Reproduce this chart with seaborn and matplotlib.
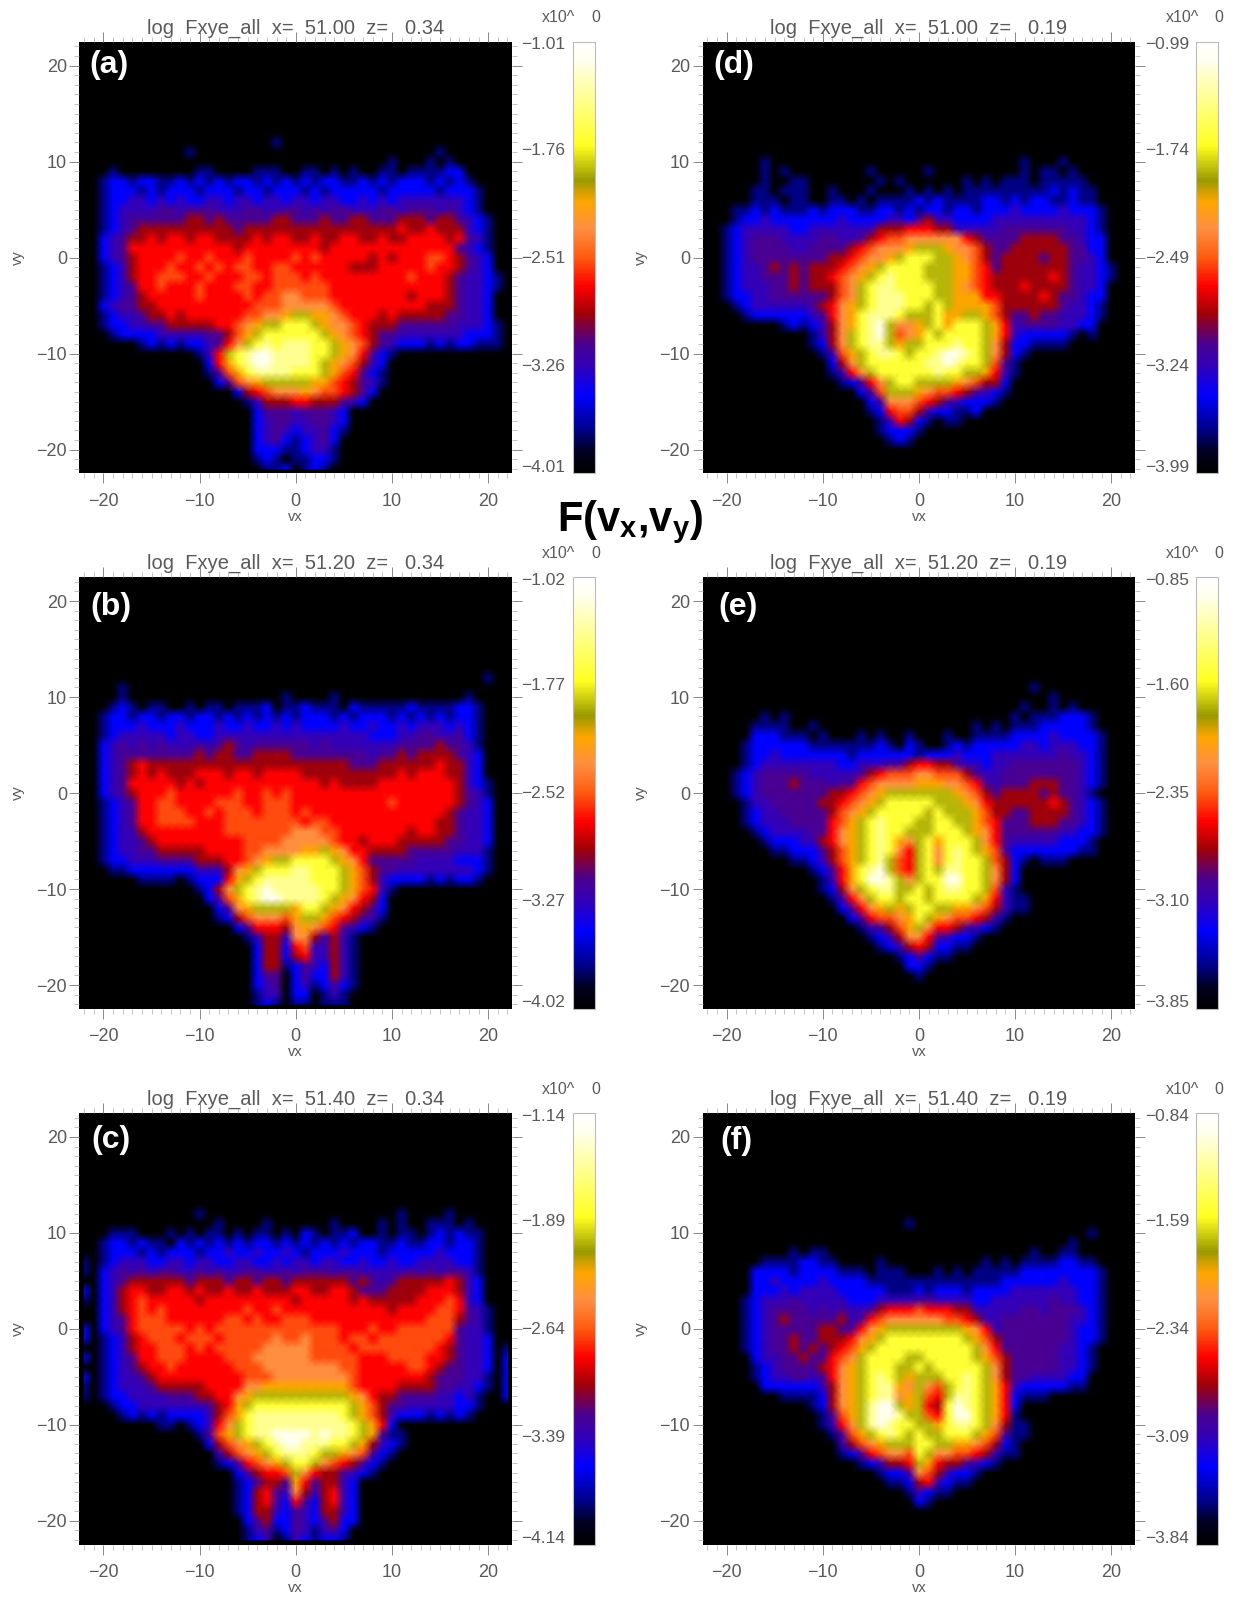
import numpy as np
import pandas as pd
import seaborn as sns
import matplotlib.pyplot as plt
from matplotlib.colors import LinearSegmentedColormap

# picture read by eye on a 1 unit grid, vx -22..22 (groups of 5 columns), vy 13 down to -22
# 0 black 1 navy 2 blue 3 indigo 4 purple 5 dark red 6 red 7 red orange
# 8 light orange 9 orange a olive b yellow c pale yellow d near white
LEVEL_CODES = "0123456789abcd"
LEVEL_FRACS = [0.0, 0.10, 0.18, 0.25, 0.30, 0.37, 0.435, 0.49, 0.57, 0.63, 0.70, 0.78, 0.87, 0.96]

PANEL_A = [
    "",
    "00000 00000 00000 00000 10000",
    "00000 00000 01000 00000 00000 00000 00000 00100",
    "00000 00000 00000 00000 00000 00000 00100 01010",
    "00010 00000 00110 00011 10011 01010 01101 11122",
    "00122 12211 21212 12212 12121 22112 12122 21212 10000",
    "00122 21212 22122 21221 22212 12222 21222 22122 21000",
    "00122 33232 32233 23323 32332 33223 23233 33333 21000",
    "00123 33344 34443 33443 34434 34433 34434 44343 21000",
    "00123 44444 45545 44444 55444 54455 44455 54554 32100",
    "00123 45555 55555 54555 55555 55555 55565 56555 32100",
    "00234 55656 65665 55565 66556 55665 56556 66656 43100",
    "00234 66666 66666 65666 66666 56666 66666 66664 32100",
    "00234 56666 76676 66766 66767 66666 56566 67765 43200",
    "00123 56667 66767 67766 77666 66655 56666 67665 43200",
    "00123 56677 76676 66776 77767 66666 66667 66654 33210",
    "00123 46676 66766 67766 77777 76666 66666 66654 33210",
    "00123 45666 66766 66767 78877 76666 66665 66654 33200",
    "00234 45566 66666 66677 78888 87666 66666 65554 33200",
    "00123 34556 56666 66778 89aa9 98766 65655 55544 33200",
    "00122 33445 55556 6789a abbba 98876 55544 44443 33210",
    "00012 22233 33344 579ab bbbbb a9876 54433 33333 22210",
    "00000 01212 12234 68abc bcccb ba987 54322 21212 21110",
    "00000 00000 00136 abcdd ccccb ba986 42100",
    "00000 00000 00026 9bcdd ccccb a9875 32000",
    "00000 00000 00014 79bcc ccbbb a9764 21000",
    "00000 00000 00002 4789a aaaa9 97654 31000",
    "00000 00000 00000 02567 88898 77654 20000",
    "00000 00000 00000 00135 55665 55432",
    "00000 00000 00000 00024 44344 43200",
    "00000 00000 00000 00023 44334 43200",
    "00000 00000 00000 00023 43233 42100",
    "00000 00000 00000 00023 42123 42000",
    "00000 00000 00000 00022 21123 31000",
    "00000 00000 00000 00012 10112 21000",
    "00000 00000 00000 00001 12012 10000",
]

PANEL_B = [
    "",
    "00000 00000 00000 00000 00000 00000 00000 00000 00100",
    "00001",
    "00001 00000 00000 00000 01000 01000 00000 00000 10000",
    "00012 10110 01011 01112 01121 11021 11112 11112 21000",
    "00122 12212 21221 21212 12122 21212 22121 21212 21000",
    "00122 23222 32223 22322 32322 22322 32232 33323 21000",
    "00123 33332 33223 33333 33333 33333 22233 44334 21000",
    "00234 34343 33434 54344 44443 43333 33344 44544 31000",
    "00234 44444 44545 54455 55444 44444 34454 55554 32000",
    "00234 56555 55555 55555 55555 55544 45555 55655 32000",
    "00234 56565 55666 56656 66655 55555 55565 66655 32000",
    "00234 66666 56566 66666 66666 56555 56666 66665 32100",
    "00234 56667 66666 67667 67666 66666 66666 66665 43100",
    "00123 46677 66667 77667 77666 66666 66766 66665 43200",
    "00123 46677 76676 77767 77676 66666 66666 66654 33200",
    "00123 46677 77666 77777 77767 76666 66666 66554 33200",
    "00123 35666 66666 77777 77888 77666 66665 66554 33200",
    "00123 34566 66666 66777 78888 87665 66655 55544 33200",
    "00123 34455 55566 66778 88899 a9866 55554 44443 33100",
    "00122 33344 44555 66789 aabbb ba986 44444 33332 22100",
    "00011 22222 22333 589ab bbccb bba97 54433 33333 32100",
    "00000 01111 01222 69abc ccccb bba97 53222 21212 21000",
    "00000 00000 00125 8abcd ccccc bba97 63100",
    "00000 00000 00024 79bcd dcccc ba986 52000",
    "00000 00000 00002 489aa aa9bb a9865 42000",
    "00000 00000 00001 25788 879aa 97654 31000",
    "00000 00000 00000 02466 65898 76432 10000",
    "00000 00000 00000 00135 53885 35310",
    "00000 00000 00000 00025 52673 35310",
    "00000 00000 00000 00025 52563 35310",
    "00000 00000 00000 00025 51243 25310",
    "00000 00000 00000 00024 40242 25310",
    "00000 00000 00000 00023 40231 24210",
    "00000 00000 00000 00013 30220 13100",
    "00000 00000 00000 00012 10110 11100",
]

PANEL_C = [
    "",
    "00000 00000 00100 00000 00000 00000 00010 00010",
    "00000 00000 00001 00001 00000 01000 01010 01110 10000",
    "00011 10001 01011 01011 01021 01120 01011 01212 11000",
    "00122 12110 21212 12122 12121 21212 21121 12212 21000",
    "00122 21212 22122 32232 23212 22322 21222 22322 21000",
    "10123 33223 32332 23322 32332 33223 22322 33332 21000",
    "10234 34344 33434 33443 34344 43443 33334 34344 31000",
    "00234 55555 54555 45545 54555 55545 43455 55565 32000",
    "20235 66556 65655 65565 55665 56654 44555 56665 32000",
    "10235 67666 66566 66666 66566 66656 55555 66676 32000",
    "00235 67676 66666 66766 76666 66666 66566 66776 43100",
    "00234 67776 66666 77676 67776 66666 66666 67775 43100",
    "20234 67777 76767 77777 77777 77666 76677 77774 33100",
    "20123 56777 67776 77777 87787 77677 67777 77764 33200",
    "00123 56677 76767 77778 88887 77767 77777 77654 33201",
    "20123 46677 76666 77788 88887 77776 66777 76654 33202",
    "00123 45667 66666 67778 88888 88776 66667 76544 33202",
    "20123 34566 66666 66777 88888 88876 66666 65444 33102",
    "10123 33455 55566 66889 99999 99976 66655 55443 32102",
    "10122 33334 44556 689aa aaaaa aaa98 65544 44332 31002",
    "00012 23333 33345 69abb bbbbb bbba9 75443 33332 21000",
    "00001 21212 22235 79bcc ccccc ccba9 75322 21212 10000",
    "00000 00011 01236 8abcc ccccc cccba 96200",
    "00000 00000 00147 9abcc ddddc dccba 94110",
    "00000 00000 00025 789ab cddcc cbba9 53210",
    "00000 00000 00003 5789a bcccb aa987 42100",
    "00000 00000 00001 24678 9abba 87654 21000",
    "00000 00000 00000 02456 67a86 55432 10000",
    "00000 00000 00000 01245 54964 55320",
    "00000 00000 00000 01256 43853 56320",
    "00000 00000 00000 01256 42642 56320",
    "00000 00000 00000 01255 32432 55320",
    "00000 00000 00000 00245 22432 45220",
    "00000 00000 00000 00134 12431 34200",
    "00000 00000 00000 00123 01321 22100",
]

PANEL_D = [
    "",
    "",
    "",
    "00000 01000 00000 00000 00000 00000 00010 00100",
    "00000 01010 00000 00100 00010 00000 00010 11010",
    "00000 01001 10000 00010 10000 00101 01110 11111",
    "00000 11011 10010 00100 01010 10111 11111 12121 10000",
    "00000 11101 10011 01011 11212 11112 21212 21121 10000",
    "00011 21211 12122 21122 12122 12212 22322 22322 21000",
    "00012 23222 22223 22223 32453 32222 33333 33333 21000",
    "00123 33332 23333 33355 56665 53333 34444 44433 21000",
    "00123 44433 33443 34567 78888 88654 44455 55443 22000",
    "00123 44443 34444 56788 89aaa 98875 44555 55544 22000",
    "00123 44444 44455 67889 abbba a9875 45555 45544 32000",
    "00123 34545 45556 789ab bbbaa a9976 45555 55543 32100",
    "00123 34445 45567 89abc bbbaa a9976 55555 56543 32100",
    "00123 33445 45557 8abcc bbbba a9876 55565 55543 32000",
    "00122 33444 44457 8abcc cbbba a9996 65555 65443 22000",
    "00012 33333 34568 9abcc cbbab a9999 75555 55433 21000",
    "00001 22222 23468 9bccc baaab 99aa9 75445 44333 21000",
    "00000 00012 12358 9bcda 889ab 9bbba 96344 44332 20000",
    "00000 00000 01358 abcda 789ba bbbba 96322 22210 10000",
    "00000 00000 01258 abcca 9aabb bcbba 85221 11100",
    "00000 00000 00137 9abcc babbc ddcba 85210",
    "00000 00000 00025 8abbb bbbcc dcbba 74100",
    "00000 00000 00013 68abb bbbbc bbaa9 63100",
    "00000 00000 00001 2468a bbaaa a9875 52000",
    "00000 00000 00000 0247a aa987 76543 21000",
    "00000 00000 00000 00248 88765 43222 10000",
    "00000 00000 00000 00126 77532 21120",
    "00000 00000 00000 00013 65210 11000",
    "00000 00000 00000 00012 22100",
    "00000 00000 00000 00001 21000",
    "",
    "",
    "",
]

PANEL_E = [
    "",
    "",
    "00000 00000 00000 00000 00000 00000 00001",
    "00000 00000 00000 00000 00000 00000 00000 01000",
    "00000 00000 00000 00000 00000 00000 00010 01010",
    "00000 01010 00000 00000 00000 00000 00101 11222 10000",
    "00000 11110 01000 00000 00000 00010 10111 22222 10000",
    "00000 22211 10100 01010 01000 10011 11222 23222 21000",
    "00001 22222 21111 11121 02100 12122 22233 23332 21000",
    "00001 22322 22222 12222 22122 23222 33333 33433 21000",
    "00001 23333 33332 23334 45665 54332 33444 44443 21000",
    "00012 34444 43333 34567 77887 77543 34444 44443 21000",
    "00012 34445 44434 46788 88999 88764 34445 55443 21000",
    "00012 34444 44455 6789a aaaaa a9875 45555 45443 10000",
    "00001 33444 44556 789ab bbbba aa986 55555 56543 21000",
    "00001 23344 44457 89abb bbbab aaa97 55445 55543 21000",
    "00001 23334 44467 9abcb bbaab baa97 64445 55443 21000",
    "00000 12333 34468 9abcb baaab bba98 64444 44332 21000",
    "00000 01222 33568 9abcb 98ab9 bbba8 64333 33222 10000",
    "00000 00112 22457 9abcb 86ab8 bcba9 74222 22221 10000",
    "00000 00001 12357 9abca 76ab8 bcbba 75210 11100",
    "00000 00000 01246 9bcda 76aba ccbba 85200",
    "00000 00000 00136 9bddc a8abb ddbba 85200",
    "00000 00000 00125 8abcc aabab ccbba 73100",
    "00000 00000 00013 68abb abbab bbba9 63110",
    "00000 00000 00002 4689a 9abba a9987 53110",
    "00000 00000 00000 24677 89ba9 87765 31000",
    "00000 00000 00000 01345 79a86 65432 10000",
    "00000 00000 00000 00123 58864 32210",
    "00000 00000 00000 00012 35652 21100",
    "00000 00000 00000 00000 12421 10000",
    "00000 00000 00000 00000 02210",
    "00000 00000 00000 00000 00100",
    "",
    "",
    "",
]

PANEL_F = [
    "",
    "",
    "00000 00000 00000 00000 01000",
    "00000 00000 00000 00000 00000 00000 00000 00000 10000",
    "00000 00000 00000 00000 00000 00000 00000 00010",
    "00000 00001 01100 00000 00000 00000 00001 00110",
    "00000 01111 22110 00010 00000 00001 01011 11221 10000",
    "00000 22221 22221 11011 10001 01011 11122 22222 21000",
    "00000 22322 22322 22111 11111 11111 12222 22322 21000",
    "00000 22232 33332 22221 11212 22122 22333 33332 21000",
    "00001 23334 33333 22233 33443 33322 33333 34332 21000",
    "00001 23444 43434 33456 66766 65533 33344 34443 21000",
    "00001 23454 44445 34678 88888 77653 34444 44433 21000",
    "00001 23444 44554 4689a aaaaa aa986 34444 44432 21000",
    "00001 23445 44555 689ab bbbbb bba97 54444 44432 21000",
    "00001 23445 45456 79abb bbbbb bbba8 64444 44332 10000",
    "00000 23344 54467 8abbb baabb bbba9 75444 44332 10000",
    "00000 12344 44568 9abbb aabab bbbba 85444 44332 10000",
    "00000 12334 43468 9abcb a9aaa bbcba 85443 33322",
    "00000 02222 22358 9abcc 98a87 abcba 96322 22211",
    "00000 00011 11258 9abcc 89a76 accba 96211 10000",
    "00000 00000 01258 9acdd a9a65 bdcba 96200",
    "00000 00000 00147 9acdd caa76 bddba 96100",
    "00000 00000 00136 8acdc bbaa9 bccba 85110",
    "00000 00000 00014 79abc babaa bbba9 74110",
    "00000 00000 00003 5789a aabba a9987 52100",
    "00000 00000 00001 24678 87ba8 87765 31100",
    "00000 00000 00000 01235 56a96 55432 10000",
    "00000 00000 00000 00012 24875 32210",
    "00000 00000 00000 00001 12563 21100",
    "00000 00000 00000 00000 01321 10000",
    "00000 00000 00000 00000 00210",
    "",
    "",
    "",
    "",
]

TITLES_X = ["51.00", "51.20", "51.40", "51.00", "51.20", "51.40"]
TITLES_Z = ["0.34", "0.34", "0.34", "0.19", "0.19", "0.19"]
PANEL_LABELS = ["(a)", "(b)", "(c)", "(d)", "(e)", "(f)"]
LABEL_X = [0.023, 0.026, 0.027, 0.024, 0.036, 0.040]
LABEL_Y = [0.945, 0.930, 0.938, 0.945, 0.930, 0.936]
CBAR_TICKS = [
    ["-1.01", "-1.76", "-2.51", "-3.26", "-4.01"],
    ["-1.02", "-1.77", "-2.52", "-3.27", "-4.02"],
    ["-1.14", "-1.89", "-2.64", "-3.39", "-4.14"],
    ["-0.99", "-1.74", "-2.49", "-3.24", "-3.99"],
    ["-0.85", "-1.60", "-2.35", "-3.10", "-3.85"],
    ["-0.84", "-1.59", "-2.34", "-3.09", "-3.84"],
]
AXIS_TICKS = [-20, -10, 0, 10, 20]

GREY = "#5a5a5a"
W, H = 1233, 1597

sns.set_theme(style="ticks")
plt.rcParams["font.family"] = ["Liberation Sans", "DejaVu Sans"]
plt.rcParams["mathtext.fontset"] = "custom"
plt.rcParams["mathtext.bf"] = "Liberation Sans:bold"
plt.rcParams["mathtext.rm"] = "Liberation Sans:bold"

cmap = LinearSegmentedColormap.from_list("idl", [
    (0.0, "#000000"), (0.05, "#000020"), (0.10, "#000088"), (0.18, "#0000ff"),
    (0.25, "#3300b8"), (0.30, "#4a0090"), (0.37, "#a00008"), (0.435, "#ff0000"),
    (0.50, "#ff5a10"), (0.57, "#ff9040"), (0.63, "#ffa500"), (0.68, "#9a9a00"),
    (0.76, "#ffff20"), (0.87, "#ffff90"), (0.96, "#fffff0"), (1.0, "#ffffff"),
])


def px_axes(fig, x0, y0, x1, y1):
    return fig.add_axes([x0 / W, 1 - y1 / H, (x1 - x0) / W, (y1 - y0) / H])


def to_frame(rows, vmin, vmax):
    table = []
    for r in range(9):
        table.append([vmin] * 45)
    for row in rows:
        row = row.replace(" ", "").ljust(45, "0")[:45]
        table.append([vmin + LEVEL_FRACS[LEVEL_CODES.index(c)] * (vmax - vmin) for c in row])
    while len(table) < 45:
        table.append([vmin] * 45)
    return pd.DataFrame(table, index=range(22, -23, -1), columns=range(-22, 23))


def draw_panel(fig, rows, box, cbox, i):
    ticks = [float(t) for t in CBAR_TICKS[i]]
    vmax, vmin = ticks[0], ticks[-1]
    ax = px_axes(fig, *box)
    ax.set_facecolor("black")
    sns.heatmap(to_frame(rows, vmin, vmax), ax=ax, cmap=cmap, vmin=vmin, vmax=vmax,
                cbar=False, xticklabels=False, yticklabels=False, shading="gouraud")
    # vertices of the mesh sit on the whole vx, vy values
    ax.set_xlim(-0.5, 44.5)
    ax.set_ylim(44.5, -0.5)
    ax.set_xticks([t + 22 for t in AXIS_TICKS])
    ax.set_xticklabels([str(t).replace("-", "\u2212") for t in AXIS_TICKS], fontsize=13, color=GREY)
    ax.set_yticks([22 - t for t in AXIS_TICKS])
    ax.set_yticklabels([str(t).replace("-", "\u2212") for t in AXIS_TICKS], fontsize=13, color=GREY)
    ax.set_xticks(range(0, 45), minor=True)
    ax.set_yticks(range(0, 45), minor=True)
    ax.tick_params(which="major", direction="out", length=7, width=0.7, color="#888888",
                   top=True, right=True, bottom=True, left=True)
    ax.tick_params(which="minor", direction="out", length=3.5, width=0.5, color="#aaaaaa",
                   top=True, right=True, bottom=True, left=True)
    ax.tick_params(axis="x", which="major", pad=7)
    ax.tick_params(axis="y", which="major", pad=2)
    ax.set_xlabel("vx", fontsize=10.5, color=GREY, labelpad=0)
    ax.set_ylabel("vy", fontsize=10.5, color=GREY, labelpad=8)
    ax.set_title("log  Fxye_all  x=  %s  z=   %s" % (TITLES_X[i], TITLES_Z[i]),
                 fontsize=14.5, color=GREY, pad=6)
    ax.text(LABEL_X[i], LABEL_Y[i], PANEL_LABELS[i], transform=ax.transAxes, color="white",
            fontsize=23, fontweight="bold", ha="left", va="center")

    cax = px_axes(fig, *cbox)
    ramp = np.linspace(vmax, vmin, 256).reshape(-1, 1)
    sns.heatmap(ramp, ax=cax, cmap=cmap, vmin=vmin, vmax=vmax, cbar=False,
                xticklabels=False, yticklabels=False)
    cax.tick_params(left=False, bottom=False)
    for s in cax.spines.values():
        s.set_visible(True)
        s.set_color("#bbbbbb")
        s.set_linewidth(0.8)
    for t, frac in zip(CBAR_TICKS[i], [0.993, 0.748, 0.498, 0.248, 0.014]):
        cax.text(-0.35, frac, t.replace("-", "\u2212"), transform=cax.transAxes, ha="right",
                 va="center", fontsize=12.5, color=GREY)
    cax.text(-1.45, 1.055, "x10^", transform=cax.transAxes, ha="left", va="center",
             fontsize=11.5, color=GREY)
    cax.text(1.05, 1.055, "0", transform=cax.transAxes, ha="center", va="center",
             fontsize=11.5, color=GREY)


fig = plt.figure(figsize=(W / 100, H / 100), dpi=100, facecolor="white")

rows_y = [(41.7, 473.5), (577, 1009), (1113, 1544.6)]
cols_x = [(79.4, 512.2, 573, 594.6), (702.6, 1135.3, 1196.4, 1217.8)]
panels = [PANEL_A, PANEL_B, PANEL_C, PANEL_D, PANEL_E, PANEL_F]
for i, rows in enumerate(panels):
    xa, xb, ca, cb = cols_x[i // 3]
    ya, yb = rows_y[i % 3]
    draw_panel(fig, rows, (xa, ya, xb, yb), (ca, ya, cb, yb), i)

fig.text(630 / W, 1 - 522 / H, r"$\mathbf{F(v_x{,}v_y)}$", fontsize=30, ha="center", va="center",
         color="black")

fig.savefig("out.png", dpi=100)
